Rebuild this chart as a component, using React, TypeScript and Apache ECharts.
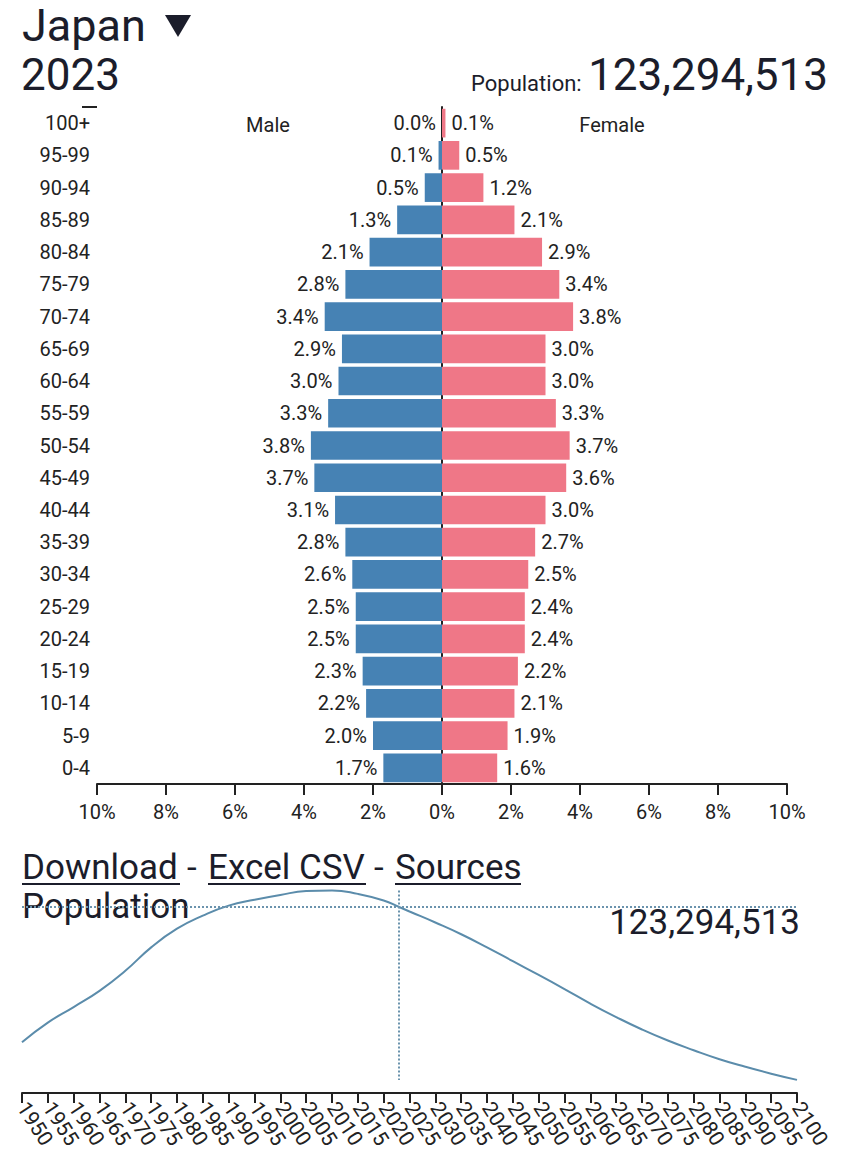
import React, { useEffect, useRef } from "react";
import * as echarts from "echarts";

const ageGroups = [
  "100+", "95-99", "90-94", "85-89", "80-84", "75-79", "70-74", "65-69", "60-64", "55-59",
  "50-54", "45-49", "40-44", "35-39", "30-34", "25-29", "20-24", "15-19", "10-14", "5-9", "0-4",
];
const malePct = [0.0, 0.1, 0.5, 1.3, 2.1, 2.8, 3.4, 2.9, 3.0, 3.3, 3.8, 3.7, 3.1, 2.8, 2.6, 2.5, 2.5, 2.3, 2.2, 2.0, 1.7];
const femalePct = [0.1, 0.5, 1.2, 2.1, 2.9, 3.4, 3.8, 3.0, 3.0, 3.3, 3.7, 3.6, 3.0, 2.7, 2.5, 2.4, 2.4, 2.2, 2.1, 1.9, 1.6];

const years = [
  1950, 1955, 1960, 1965, 1970, 1975, 1980, 1985, 1990, 1995, 2000, 2005, 2010, 2015, 2020, 2023,
  2025, 2030, 2035, 2040, 2045, 2050, 2055, 2060, 2065, 2070, 2075, 2080, 2085, 2090, 2095, 2100,
];
const populationM = [
  84.1, 89.8, 94.3, 99.0, 104.8, 111.6, 117.0, 120.8, 123.7, 125.4, 126.8, 127.9, 128.1, 127.1, 125.2, 123.3,
  122.0, 118.8, 115.4, 111.6, 107.6, 103.6, 99.5, 95.3, 91.4, 87.8, 84.6, 81.8, 79.2, 77.0, 75.0, 73.2,
];
const currentYear = 2023;
const currentPopulation = "123,294,513";
const currentPopM = 123.3;

const FONT = "Roboto";
const TXT = "#1b1d2b";
const MALE = "#4682b4";
const FEMALE = "#ef7787";

export default function App() {
  const ref = useRef<HTMLDivElement>(null);
  useEffect(() => {
    if (!ref.current) return;
    const chart = echarts.init(ref.current, undefined, { renderer: "svg" });
    const popMax = Math.max(...populationM);
    const popMin = Math.min(...populationM);
    const option: any = {
      animation: false,
      backgroundColor: "#ffffff",
      textStyle: { fontFamily: FONT },
      grid: [
        { left: 97, right: 63, top: 107, height: 677 },
        { left: 22, right: 53, top: 888, bottom: 68 },
      ],
      xAxis: [
        {
          type: "value",
          gridIndex: 0,
          min: -10,
          max: 10,
          interval: 2,
          splitLine: { show: false },
          axisLine: { show: true, lineStyle: { color: "#222", width: 2 } },
          axisTick: { show: true, length: 11, lineStyle: { color: "#222", width: 2 } },
          axisLabel: {
            color: "#222",
            fontSize: 20,
            fontFamily: FONT,
            margin: 18,
            formatter: (v: number) => Math.abs(v) + "%",
          },
        },
        {
          type: "value",
          gridIndex: 1,
          min: 1950,
          max: 2100,
          interval: 5,
          splitLine: { show: false },
          axisLine: { show: true, onZero: false, lineStyle: { color: "#222", width: 2 } },
          axisTick: { show: true, length: 10, lineStyle: { color: "#222", width: 2 } },
          axisLabel: {
            color: "#222",
            fontSize: 21,
            fontFamily: FONT,
            rotate: -57,
            margin: 11,
            showMinLabel: true,
            showMaxLabel: true,
            hideOverlap: false,
            formatter: (v: number) => String(v),
          },
        },
      ],
      yAxis: [
        {
          type: "category",
          gridIndex: 0,
          data: ageGroups,
          inverse: true,
          axisLine: { show: true, lineStyle: { color: "#222", width: 2 } },
          axisTick: { show: false },
          axisLabel: { color: "#222", fontSize: 20, fontFamily: FONT, margin: 7 },
        },
        {
          type: "value",
          gridIndex: 1,
          min: 69.4,
          max: 128.8,
          show: false,
          splitLine: { show: false },
        },
      ],
      series: [
        {
          type: "bar",
          name: "Male",
          xAxisIndex: 0,
          yAxisIndex: 0,
          data: malePct.map((v) => -v),
          barGap: "-100%",
          barCategoryGap: "11%",
          itemStyle: { color: MALE },
          label: {
            show: true,
            position: "left",
            distance: 6,
            color: "#222",
            fontSize: 20,
            fontFamily: FONT,
            formatter: (p: any) => Math.abs(p.value).toFixed(1) + "%",
          },
        },
        {
          type: "bar",
          name: "Female",
          xAxisIndex: 0,
          yAxisIndex: 0,
          data: femalePct,
          barGap: "-100%",
          barCategoryGap: "11%",
          itemStyle: { color: FEMALE },
          label: {
            show: true,
            position: "right",
            distance: 6,
            color: "#222",
            fontSize: 20,
            fontFamily: FONT,
            formatter: (p: any) => Number(p.value).toFixed(1) + "%",
          },
        },
        {
          type: "line",
          xAxisIndex: 1,
          yAxisIndex: 1,
          data: years.map((y, i) => [y, populationM[i]]),
          smooth: true,
          showSymbol: false,
          lineStyle: { color: "#5b8cab", width: 2 },
          markLine: {
            silent: true,
            symbol: "none",
            label: { show: false },
            lineStyle: { type: "dotted", color: "#6b93ad", width: 2 },
            data: [
              [{ coord: [currentYear, popMax] }, { coord: [currentYear, popMin] }],
              [{ coord: [years[0], currentPopM] }, { coord: [years[years.length - 1], currentPopM] }],
            ],
          },
        },
      ],
      graphic: [
        { type: "text", x: 22, y: 25, style: { text: "Japan", fontSize: 45, fontFamily: FONT, fill: TXT, verticalAlign: "middle" } },
        { type: "polygon", shape: { points: [[165, 15], [191, 15], [178, 37]] }, style: { fill: TXT } },
        { type: "text", x: 21, y: 75, style: { text: "2023", fontSize: 44, fontFamily: FONT, fill: TXT, verticalAlign: "middle" } },
        { type: "text", x: 471, y: 83, style: { text: "Population:", fontSize: 22, fontFamily: FONT, fill: TXT, verticalAlign: "middle" } },
        { type: "text", x: 828, y: 75, style: { text: currentPopulation, fontSize: 44, fontFamily: FONT, fill: TXT, align: "right", verticalAlign: "middle" } },
        { type: "text", x: 268, y: 125, style: { text: "Male", fontSize: 20, fontFamily: FONT, fill: "#222", align: "center", verticalAlign: "middle" } },
        { type: "text", x: 612, y: 125, style: { text: "Female", fontSize: 20, fontFamily: FONT, fill: "#222", align: "center", verticalAlign: "middle" } },
        { type: "line", shape: { x1: 82, y1: 107, x2: 97, y2: 107 }, style: { stroke: "#222", lineWidth: 2 } },
        { type: "text", x: 22, y: 867, style: { text: "Download", fontSize: 35, fontFamily: FONT, fill: TXT, verticalAlign: "middle" } },
        { type: "text", x: 187, y: 867, style: { text: "-", fontSize: 35, fontFamily: FONT, fill: TXT, verticalAlign: "middle" } },
        { type: "text", x: 208, y: 867, style: { text: "Excel CSV", fontSize: 35, fontFamily: FONT, fill: TXT, verticalAlign: "middle" } },
        { type: "text", x: 374, y: 867, style: { text: "-", fontSize: 35, fontFamily: FONT, fill: TXT, verticalAlign: "middle" } },
        { type: "text", x: 395, y: 867, style: { text: "Sources", fontSize: 35, fontFamily: FONT, fill: TXT, verticalAlign: "middle" } },
        { type: "line", shape: { x1: 22, y1: 884, x2: 180, y2: 884 }, style: { stroke: TXT, lineWidth: 2 } },
        { type: "line", shape: { x1: 208, y1: 884, x2: 366, y2: 884 }, style: { stroke: TXT, lineWidth: 2 } },
        { type: "line", shape: { x1: 395, y1: 884, x2: 521, y2: 884 }, style: { stroke: TXT, lineWidth: 2 } },
        { type: "text", x: 22, y: 906, style: { text: "Population", fontSize: 35, fontFamily: FONT, fill: TXT, verticalAlign: "middle" } },
        { type: "text", x: 800, y: 922, style: { text: currentPopulation, fontSize: 35, fontFamily: FONT, fill: TXT, align: "right", verticalAlign: "middle" } },
      ],
    };
    chart.setOption(option);
    return () => chart.dispose();
  }, []);
  return (
    <div
      ref={ref}
      style={{ position: "absolute", left: 0, top: 0, width: 850, height: 1161, background: "#fff" }}
    />
  );
}
